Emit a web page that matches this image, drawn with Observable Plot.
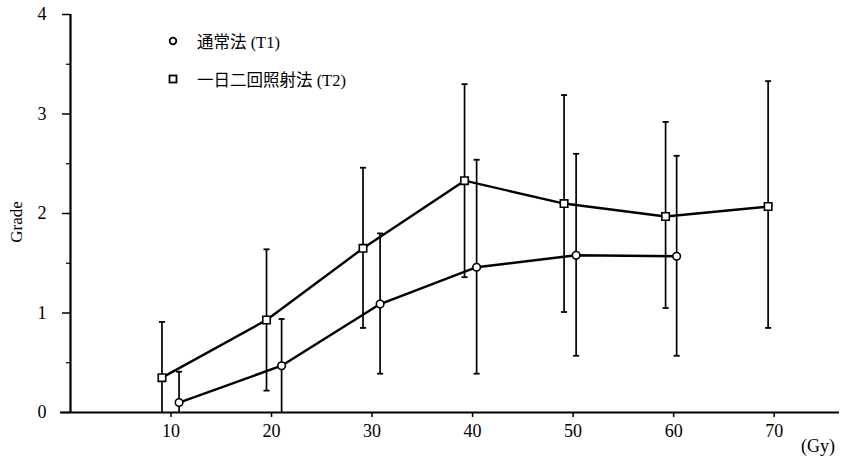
<!DOCTYPE html>
<html>
<head>
<meta charset="utf-8">
<script src="https://cdn.jsdelivr.net/npm/d3@7"></script>
<script src="https://cdn.jsdelivr.net/npm/@observablehq/plot@0.6"></script>
<style>
  html, body { margin: 0; padding: 0; background: #fff; }
  #wrap { position: relative; width: 845px; height: 461px; font-family: "Liberation Serif", "DejaVu Serif", serif; }
  #wrap svg text { font-family: "Liberation Serif", "DejaVu Serif", serif; font-size: 18px; }
  .leg { position: absolute; left: 166px; font-family: "Liberation Serif", "Noto Sans CJK JP", serif; font-size: 16.5px; color: #000; display: flex; align-items: center; }
  .leg svg { margin-right: 17px; }
  #unit { position: absolute; left: 801px; top: 436px; font-size: 18px; }
  #ylab { position: absolute; left: 17px; top: 222px; font-size: 17px; transform: translate(-50%, -50%) rotate(-90deg); }
</style>
</head>
<body>
<div id="wrap"></div>
<script>
// Series T1: 通常法
const doseT1 = [10.8, 21.0, 30.8, 40.4, 50.3, 60.3];
const gradeT1 = [0.10, 0.47, 1.09, 1.46, 1.58, 1.57];
const hiT1 = [0.41, 0.94, 1.80, 2.54, 2.60, 2.58];
const loT1 = [0, 0, 0.39, 0.39, 0.57, 0.57];
// Series T2: 一日二回照射法
const doseT2 = [9.1, 19.5, 29.1, 39.2, 49.1, 59.2, 69.4];
const gradeT2 = [0.35, 0.93, 1.65, 2.33, 2.10, 1.97, 2.07];
const hiT2 = [0.91, 1.64, 2.46, 3.30, 3.19, 2.92, 3.33];
const loT2 = [0, 0.22, 0.85, 1.36, 1.01, 1.05, 0.85];
// Ticks
const xTicks = [10, 20, 30, 40, 50, 60, 70];
const yTicks = [0, 1, 2, 3, 4];
const yMinor = [0.5, 1.5, 2.5, 3.5];
const seriesNames = ["通常法 (T1)", "一日二回照射法 (T2)"];
const yLabel = "Grade";
const xUnit = "(Gy)";

const t1 = doseT1.map((d, i) => ({dose: d, grade: gradeT1[i], hi: hiT1[i], lo: loT1[i]}));
const t2 = doseT2.map((d, i) => ({dose: d, grade: gradeT2[i], hi: hiT2[i], lo: loT2[i]}));
const all = t1.concat(t2);
const capW = 0.3;
const serif = "'Liberation Serif', 'DejaVu Serif', serif";

const chart = Plot.plot({
  width: 845,
  height: 461,
  marginLeft: 70,
  marginRight: 6,
  marginTop: 14,
  marginBottom: 49,
  style: {fontFamily: serif, fontSize: "18px", color: "#000", background: "#fff"},
  x: {domain: [0, 76.5]},
  y: {domain: [0, 4]},
  marks: [
    Plot.axisX({ticks: xTicks, tickSize: 5, tickPadding: 7, fontSize: 18, fontFamily: serif, label: null, strokeWidth: 1.5}),
    Plot.axisY({ticks: yTicks, tickSize: 8, tickPadding: 16, fontSize: 18, fontFamily: serif, tickFormat: d3.format("d"), label: null, strokeWidth: 1.5}),
    Plot.axisY({ticks: yMinor, tickSize: 4, tickFormat: () => "", label: null, strokeWidth: 1.2}),
    // error bars
    Plot.ruleX(all, {x: "dose", y1: "lo", y2: "hi", stroke: "#000", strokeWidth: 1.7}),
    Plot.link(all, {x1: d => d.dose - capW, x2: d => d.dose + capW, y1: "hi", y2: "hi", stroke: "#000", strokeWidth: 1.8}),
    Plot.link(all.filter(d => d.lo > 0), {x1: d => d.dose - capW, x2: d => d.dose + capW, y1: "lo", y2: "lo", stroke: "#000", strokeWidth: 1.8}),
    // lines
    Plot.line(t1, {x: "dose", y: "grade", stroke: "#000", strokeWidth: 2.4}),
    Plot.line(t2, {x: "dose", y: "grade", stroke: "#000", strokeWidth: 2.4}),
    // axes lines
    Plot.ruleX([0], {y1: 0, y2: 4, stroke: "#000", strokeWidth: 2.2}),
    Plot.ruleY([0], {x1: -1, x2: 76.5, stroke: "#000", strokeWidth: 2.2, clip: false}),
    // markers
    Plot.dot(t1, {x: "dose", y: "grade", r: 3.8, symbol: "circle", fill: "#fff", stroke: "#000", strokeWidth: 1.6}),
    Plot.dot(t2, {x: "dose", y: "grade", r: 4.2, symbol: "square", fill: "#fff", stroke: "#000", strokeWidth: 1.6})
  ]
});

const wrap = document.getElementById("wrap");
wrap.appendChild(chart);

// legend
const legTops = [29, 67];
const legSyms = [
  '<svg width="14" height="14"><circle cx="7" cy="7" r="3.3" fill="#fff" stroke="#000" stroke-width="1.8"/></svg>',
  '<svg width="14" height="14"><rect x="3.5" y="3.5" width="7" height="7" fill="#fff" stroke="#000" stroke-width="1.8"/></svg>'
];
seriesNames.forEach((name, i) => {
  const div = document.createElement("div");
  div.className = "leg";
  div.style.top = legTops[i] + "px";
  div.innerHTML = legSyms[i] + "<span>" + name + "</span>";
  wrap.appendChild(div);
});
const unit = document.createElement("div");
unit.id = "unit";
unit.textContent = xUnit;
wrap.appendChild(unit);
const ylab = document.createElement("div");
ylab.id = "ylab";
ylab.textContent = yLabel;
wrap.appendChild(ylab);
</script>
</body>
</html>
